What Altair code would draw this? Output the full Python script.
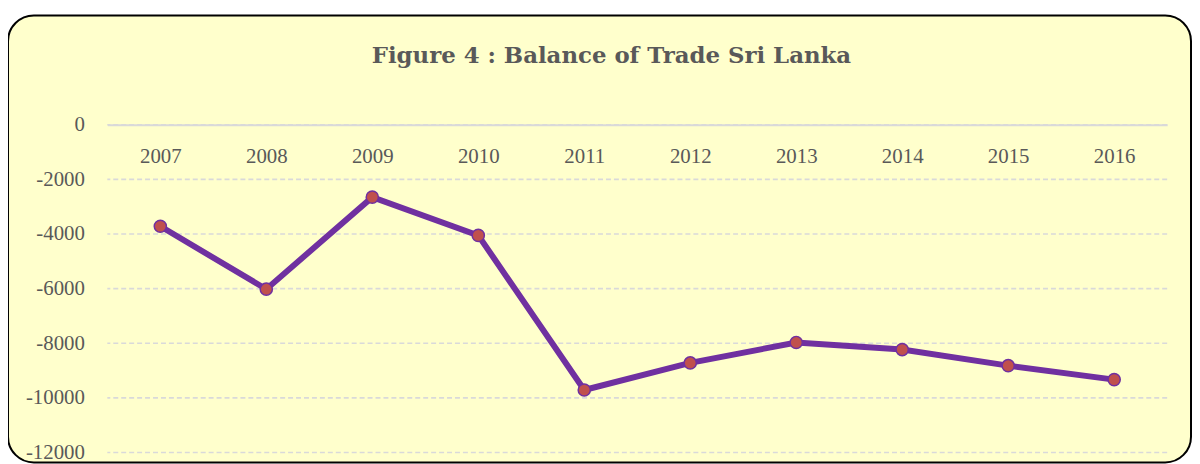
import altair as alt
import pandas as pd

years = ["2007", "2008", "2009", "2010", "2011", "2012", "2013", "2014", "2015", "2016"]
balance = [-3716, -6020, -2650, -4050, -9710, -8720, -7970, -8230, -8820, -9330]
y_ticks = [0, -2000, -4000, -6000, -8000, -10000, -12000]
title_text = "Figure 4 : Balance of Trade Sri Lanka"

df = pd.DataFrame({"year": years, "balance": balance})
grid_df = pd.DataFrame({"balance": y_ticks})

FONT = "Liberation Serif"
TXT = "#595959"
W, H = 1067, 330

frame = alt.Chart(pd.DataFrame({"k": [0]})).mark_rect(
    cornerRadius=26, fill="#FFFFCC", stroke="black", strokeWidth=2
).encode(
    x=alt.value(-100), x2=alt.value(1091), y=alt.value(-110), y2=alt.value(340)
)

y_scale = alt.Scale(domain=[-12000, 0], nice=False, zero=False)

x_enc = alt.X(
    "year:O",
    sort=years,
    axis=alt.Axis(
        orient="top", domain=True, domainColor="#D9D9D9", domainWidth=2,
        ticks=False, grid=False, labelAngle=0, labelBaseline="top",
        labelPadding=-21, labelFont=FONT, labelFontSize=21, labelColor=TXT,
        title=None, zindex=1,
    ),
)
y_enc = alt.Y(
    "balance:Q",
    scale=y_scale,
    axis=alt.Axis(
        values=y_ticks, grid=False, domain=False, ticks=False, labelPadding=23,
        labelFont=FONT, labelFontSize=21, labelColor=TXT, title=None,
        labelExpr="toString(datum.value)", zindex=1,
    ),
)

grid = alt.Chart(grid_df).mark_rule(
    strokeDash=[5, 3], color="#D9D9D9", strokeWidth=1.6
).encode(y=alt.Y("balance:Q", scale=y_scale))

line = alt.Chart(df).mark_line(color="#7030A0", strokeWidth=6).encode(x=x_enc, y=y_enc)
points = alt.Chart(df).mark_point(
    filled=True, fill="#C0504D", stroke="#7030A0", strokeWidth=1.5, size=150, opacity=1,
).encode(x=x_enc, y=y_enc)

chart = alt.layer(frame, grid, line, points).properties(
    width=W,
    height=H,
    title=alt.TitleParams(
        title_text, font="DejaVu Serif", fontSize=23, fontWeight="bold", color=TXT,
        anchor="middle", dx=-26, offset=-54,
    ),
    autosize=alt.AutoSizeParams(type="none"),
    padding={"left": 100, "top": 116, "right": 25, "bottom": 10},
).configure_view(stroke=None).configure(background="white")

chart.save("out.html", embed_options={"renderer": "svg", "actions": False})
